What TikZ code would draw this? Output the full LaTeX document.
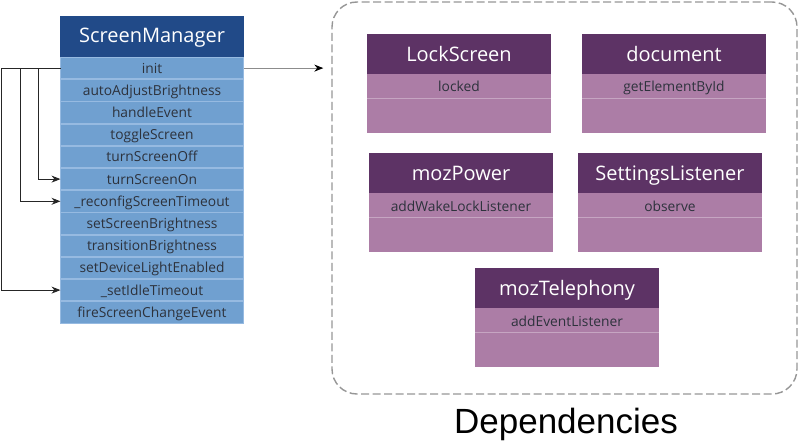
\documentclass[tikz,border=0pt]{standalone}
\usepackage{fontspec}
\setmainfont{Open Sans}
\newfontfamily\depfont{Liberation Sans}
\usetikzlibrary{arrows.meta}
\usetikzlibrary{positioning}

\definecolor{smhead}{RGB}{33,74,136}
\definecolor{smrow}{RGB}{112,160,208}
\definecolor{smline}{RGB}{150,186,225}
\definecolor{dephead}{RGB}{93,51,101}
\definecolor{deprow}{RGB}{172,125,166}
\definecolor{depline}{RGB}{198,165,194}
\definecolor{boxgray}{RGB}{150,150,150}
\definecolor{rowtext}{RGB}{45,50,60}

\tikzset{
  smtitle/.style={fill=smhead, text=white, minimum width=184pt, minimum height=41pt,
    inner sep=0pt, outer sep=0pt, font=\fontsize{20}{23}\selectfont,
    text height=15pt, text depth=2pt},
  smrowbox/.style={fill=smrow, draw=smline, line width=0.8pt, text=rowtext,
    minimum width=183pt, minimum height=21.4pt, inner sep=0pt, outer sep=0pt,
    font=\fontsize{13.8}{15}\selectfont, text height=11pt, text depth=1pt},
  classhead/.style={fill=dephead, text=white, minimum width=184pt, minimum height=40pt,
    inner sep=0pt, outer sep=0pt, font=\fontsize{20}{23}\selectfont,
    text height=16pt, text depth=1pt},
  classmember/.style={fill=deprow, text=rowtext,
    minimum width=184pt, minimum height=24pt, inner sep=0pt, outer sep=0pt,
    font=\fontsize{13.8}{15}\selectfont, text height=12pt, text depth=0pt},
  classrest/.style={fill=deprow, minimum width=184pt, minimum height=35pt,
    inner sep=0pt, outer sep=0pt,
    path picture={\draw[depline, line width=1.2pt] (path picture bounding box.north west)
      -- (path picture bounding box.north east);}},
  depsbox/.style={draw=boxgray, line width=1.4pt, dash pattern=on 8pt off 3.5pt,
    rounded corners=25pt, minimum width=465pt, minimum height=392pt},
  conn/.style={draw=black!85, line width=1pt, -{Stealth[length=9pt,width=7pt]}},
  initarrow/.style={draw=black!45, line width=1pt, -{Stealth[length=9pt,width=7pt,black]}}
}

\begin{document}
\begin{tikzpicture}[x=1pt,y=-1pt]
\useasboundingbox (0,0) rectangle (800,444);

% ScreenManager
\node[smtitle] (sm) at (152,36.5) {ScreenManager};
\foreach \meth [count=\i] in {init, autoAdjustBrightness, handleEvent, toggleScreen,
    turnScreenOff, turnScreenOn, \_reconfigScreenTimeout, setScreenBrightness,
    transitionBrightness, setDeviceLightEnabled, \_setIdleTimeout, fireScreenChangeEvent} {
  \node[smrowbox] (row\i) at (152,{68.1+(\i-1)*22.2}) {\meth};
}

% calls inside ScreenManager
\draw[conn] (row1.west) -- ++(-22,0) |- (row6.west);
\draw[conn] (row1.west) -- ++(-40,0) |- (row7.west);
\draw[conn] (row1.west) -- ++(-59,0) |- (row11.west);

% dependencies
\node[depsbox] (deps) at (564.5,198) {};
\draw[initarrow, shorten >=8pt] (row1.east) -- (row1.east -| deps.west);

\node[classhead] (lock) at (459,54) {LockScreen};
\node[classmember, below=0pt of lock] (lockm) {locked};
\node[classrest, below=0pt of lockm] (lockr) {};

\node[classhead] (doc) at (674,54) {document};
\node[classmember, below=0pt of doc] (docm) {getElementById};
\node[classrest, below=0pt of docm] (docr) {};

\node[classhead] (power) at (461,173) {mozPower};
\node[classmember, below=0pt of power] (powerm) {addWakeLockListener};
\node[classrest, below=0pt of powerm] (powerr) {};

\node[classhead] (settings) at (670,173) {SettingsListener};
\node[classmember, below=0pt of settings] (settingsm) {observe};
\node[classrest, below=0pt of settingsm] (settingsr) {};

\node[classhead] (tel) at (567,288) {mozTelephony};
\node[classmember, below=0pt of tel] (telm) {addEventListener};
\node[classrest, below=0pt of telm] (telr) {};

\node[font=\depfont\fontsize{35}{40}\selectfont] (depslabel) at (566,424) {Dependencies};
\end{tikzpicture}
\end{document}
